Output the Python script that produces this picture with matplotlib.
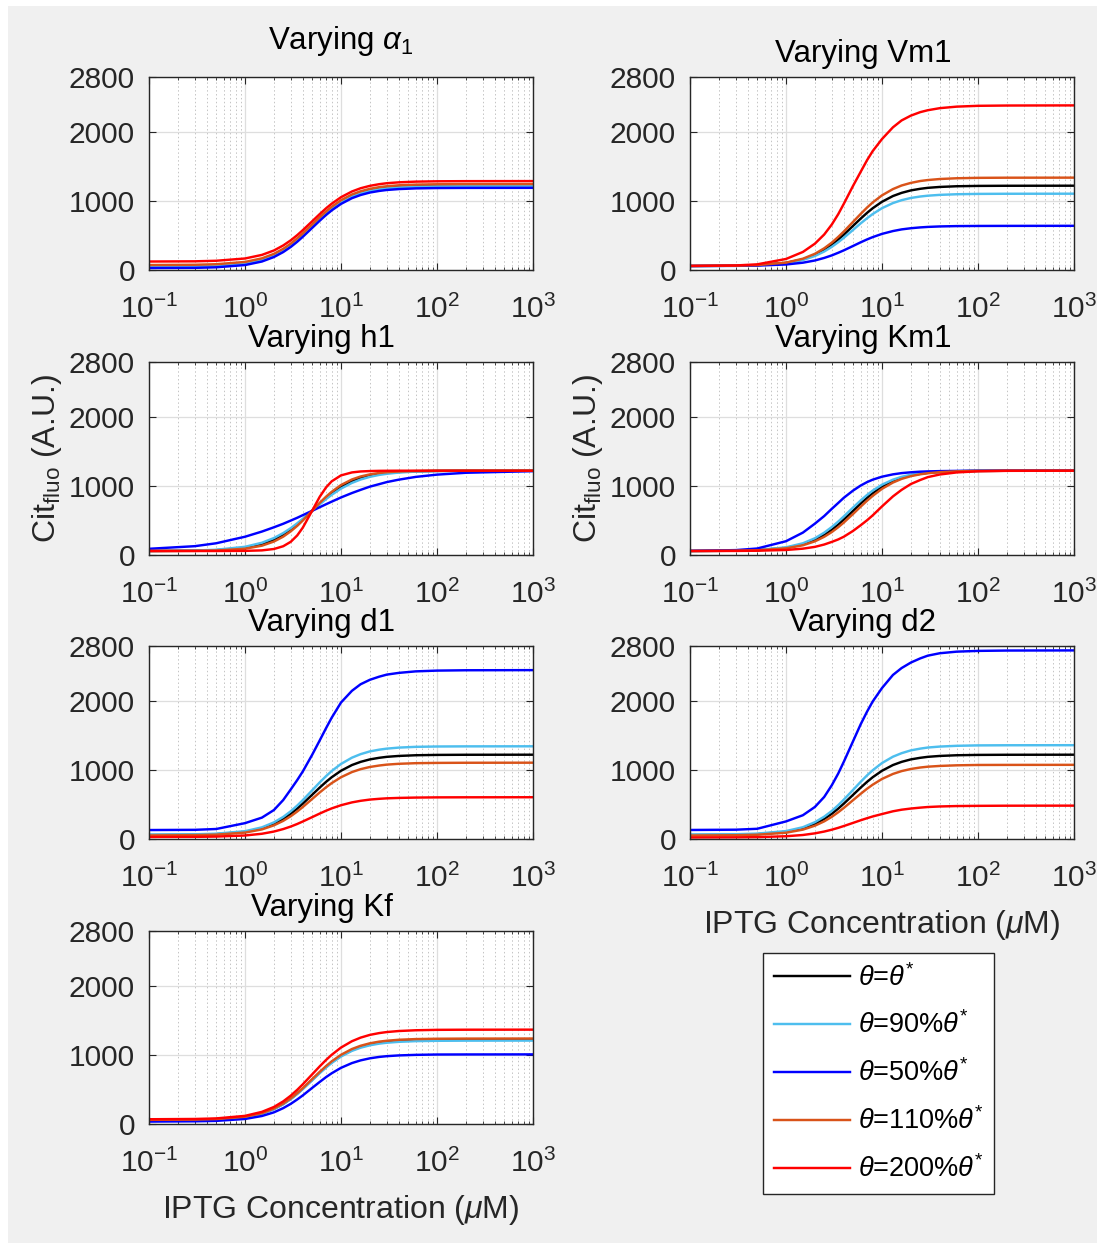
import matplotlib
matplotlib.use('Agg')
import matplotlib.pyplot as plt
from matplotlib.patches import Rectangle
from matplotlib.ticker import FixedLocator, LogLocator, NullFormatter, LogFormatterSciNotation

plt.rcParams['font.family'] = ['Liberation Sans', 'DejaVu Sans']
plt.rcParams['mathtext.fontset'] = 'custom'
plt.rcParams['mathtext.rm'] = 'Liberation Sans'
plt.rcParams['mathtext.it'] = 'Liberation Sans:italic'
plt.rcParams['mathtext.bf'] = 'Liberation Sans:bold'
plt.rcParams['axes.unicode_minus'] = False

# ---------------- data ----------------
iptg = [0.1, 0.3, 0.5, 1, 1.5, 2, 2.5, 3, 3.5, 4, 5, 6, 7, 8, 10, 13, 16, 20, 25, 30, 40, 60, 100, 200, 1000]

ref_cit = [58, 62, 70, 103, 154, 219, 291, 366, 441, 513, 641, 746, 830, 896, 990, 1073, 1119, 1155, 1178, 1192, 1205, 1215, 1220, 1222, 1223]

a1_90 = [53, 56, 64, 97, 148, 213, 285, 360, 435, 507, 635, 740, 824, 890, 984, 1067, 1113, 1149, 1172, 1186, 1199, 1209, 1214, 1216, 1217]
a1_50 = [28, 31, 39, 72, 123, 188, 260, 335, 410, 482, 610, 715, 799, 865, 959, 1042, 1088, 1124, 1147, 1161, 1174, 1184, 1189, 1191, 1192]
a1_110 = [72, 76, 84, 117, 169, 234, 307, 383, 459, 531, 660, 766, 850, 917, 1012, 1096, 1142, 1178, 1202, 1215, 1229, 1239, 1244, 1246, 1247]
a1_200 = [123, 126, 134, 167, 219, 283, 356, 431, 506, 578, 706, 811, 896, 962, 1056, 1139, 1186, 1221, 1245, 1259, 1272, 1282, 1287, 1289, 1290]

vm_90 = [58, 62, 68, 98, 145, 203, 268, 336, 403, 467, 582, 677, 752, 812, 897, 971, 1013, 1045, 1066, 1078, 1090, 1099, 1104, 1106, 1107]
vm_50 = [58, 60, 64, 80, 106, 138, 175, 212, 250, 285, 349, 402, 444, 477, 524, 565, 589, 606, 618, 625, 632, 637, 639, 640, 641]
vm_110 = [59, 63, 71, 107, 164, 235, 315, 397, 480, 558, 699, 814, 907, 980, 1083, 1174, 1226, 1264, 1291, 1305, 1320, 1331, 1337, 1339, 1340]
vm_200 = [59, 66, 82, 160, 262, 382, 515, 660, 810, 960, 1222, 1425, 1595, 1725, 1900, 2070, 2170, 2240, 2290, 2318, 2348, 2370, 2382, 2386, 2388]

h_90 = [59, 65, 76, 119, 178, 246, 318, 390, 460, 525, 641, 735, 812, 873, 963, 1046, 1095, 1134, 1162, 1178, 1196, 1210, 1218, 1221, 1223]
h_50 = [90, 128, 170, 265, 340, 402, 453, 500, 540, 578, 641, 693, 737, 774, 835, 899, 945, 992, 1028, 1058, 1093, 1133, 1166, 1193, 1216]
h_110 = [58, 60, 65, 91, 135, 195, 266, 344, 423, 500, 641, 756, 847, 917, 1015, 1096, 1139, 1170, 1190, 1201, 1211, 1218, 1221, 1223, 1223]
h_200 = [58, 58, 58, 60, 67, 87, 127, 192, 284, 397, 641, 844, 982, 1069, 1155, 1198, 1212, 1218, 1221, 1222, 1223, 1223, 1223, 1223, 1223]

km_90 = [58, 63, 72, 111, 170, 243, 324, 406, 485, 560, 689, 792, 872, 934, 1020, 1093, 1134, 1165, 1185, 1196, 1208, 1216, 1221, 1222, 1223]
km_50 = [60, 71, 94, 200, 325, 455, 565, 670, 755, 830, 935, 1008, 1058, 1093, 1136, 1170, 1188, 1200, 1209, 1213, 1217, 1220, 1222, 1223, 1223]
km_110 = [58, 62, 68, 97, 141, 198, 264, 333, 403, 471, 596, 702, 788, 858, 960, 1051, 1104, 1144, 1171, 1186, 1202, 1214, 1220, 1222, 1223]
km_200 = [58, 59, 62, 73, 92, 118, 152, 190, 226, 265, 350, 432, 505, 575, 705, 850, 945, 1030, 1088, 1130, 1168, 1198, 1214, 1221, 1223]

d1_90 = [64, 68, 77, 113, 169, 241, 320, 403, 485, 564, 705, 821, 913, 986, 1089, 1180, 1231, 1271, 1296, 1311, 1326, 1337, 1342, 1344, 1345]
d1_50 = [130, 133, 145, 230, 310, 420, 565, 720, 855, 980, 1220, 1430, 1610, 1760, 1980, 2150, 2245, 2310, 2355, 2385, 2410, 2432, 2443, 2448, 2450]
d1_110 = [52, 56, 63, 93, 139, 198, 263, 331, 399, 464, 580, 675, 751, 811, 896, 971, 1013, 1045, 1066, 1079, 1091, 1100, 1104, 1106, 1107]
d1_200 = [29, 31, 35, 51, 76, 108, 144, 181, 218, 254, 317, 369, 411, 444, 490, 531, 554, 572, 583, 590, 596, 601, 604, 605, 606]

d2_90 = [65, 69, 78, 115, 171, 244, 324, 407, 491, 571, 713, 830, 924, 997, 1102, 1194, 1245, 1286, 1311, 1327, 1341, 1352, 1358, 1360, 1361]
d2_50 = [131, 135, 148, 255, 345, 465, 610, 780, 950, 1120, 1420, 1665, 1850, 1995, 2190, 2380, 2480, 2560, 2620, 2660, 2695, 2718, 2729, 2734, 2736]
d2_110 = [51, 55, 62, 91, 136, 193, 256, 322, 388, 451, 564, 656, 730, 788, 871, 944, 985, 1016, 1037, 1049, 1060, 1069, 1074, 1075, 1076]
d2_200 = [22, 24, 27, 40, 58, 82, 108, 135, 162, 188, 234, 272, 302, 327, 362, 402, 425, 442, 455, 464, 472, 478, 481, 483, 484]

kf_90 = [55, 59, 66, 99, 150, 214, 286, 361, 435, 506, 633, 737, 820, 886, 979, 1061, 1107, 1142, 1166, 1179, 1192, 1202, 1207, 1209, 1210]
kf_50 = [35, 39, 45, 73, 116, 169, 230, 293, 356, 415, 523, 610, 681, 736, 815, 884, 923, 953, 973, 984, 995, 1003, 1008, 1009, 1010]
kf_110 = [60, 64, 72, 105, 157, 223, 296, 372, 448, 520, 650, 756, 841, 909, 1004, 1088, 1135, 1171, 1195, 1208, 1222, 1232, 1237, 1239, 1240]
kf_200 = [69, 73, 81, 118, 176, 247, 328, 412, 496, 576, 719, 836, 930, 1004, 1109, 1201, 1253, 1293, 1319, 1334, 1349, 1360, 1366, 1368, 1369]

panel_titles = [r'Varying $\alpha_1$', 'Varying Vm1', 'Varying h1', 'Varying Km1',
                'Varying d1', 'Varying d2', 'Varying Kf']
series_labels = [r'$\theta$=$\theta^{*}$', r'$\theta$=90%$\theta^{*}$', r'$\theta$=50%$\theta^{*}$',
                 r'$\theta$=110%$\theta^{*}$', r'$\theta$=200%$\theta^{*}$']
series_colors = ['#000000', '#4DBEEE', '#0000FF', '#D95319', '#FF0000']
y_ticks = [0, 1000, 2000, 2800]
x_major = [0.1, 1, 10, 100, 1000]

panel_data = [
    [ref_cit, a1_90, a1_50, a1_110, a1_200],
    [ref_cit, vm_90, vm_50, vm_110, vm_200],
    [ref_cit, h_90, h_50, h_110, h_200],
    [ref_cit, km_90, km_50, km_110, km_200],
    [ref_cit, d1_90, d1_50, d1_110, d1_200],
    [ref_cit, d2_90, d2_50, d2_110, d2_200],
    [ref_cit, kf_90, kf_50, kf_110, kf_200],
]

# ---------------- layout ----------------
W, H = 1105, 1250
fig = plt.figure(figsize=(W / 100, H / 100), dpi=100, facecolor='white')
fig.patches.append(Rectangle((8 / W, 1 - 1243 / H), (1097 - 8) / W, (1243 - 6) / H,
                             transform=fig.transFigure, facecolor='#f0f0f0',
                             edgecolor='none', zorder=-10))

col_left = [149, 690]
row_top = [77, 362, 646, 931]
ax_w, ax_h = 384, 193
positions = [(0, 0), (0, 1), (1, 0), (1, 1), (2, 0), (2, 1), (3, 0)]

DARK = '#262626'
axes = []
for i, (r, c) in enumerate(positions):
    left = col_left[c] / W
    bottom = 1 - (row_top[r] + ax_h) / H
    ax = fig.add_axes([left, bottom, ax_w / W, ax_h / H])
    ax.set_facecolor('white')
    for s, col in zip(panel_data[i], series_colors):
        ax.plot(iptg, s, color=col, lw=1.75)
    ax.set_xscale('log')
    ax.set_xlim(0.1, 1000)
    ax.set_ylim(0, 2800)
    ax.set_yticks(y_ticks)
    ax.set_yticklabels([str(v) for v in y_ticks])
    ax.xaxis.set_major_locator(FixedLocator(x_major))
    ax.xaxis.set_major_formatter(LogFormatterSciNotation())
    ax.xaxis.set_minor_locator(LogLocator(base=10, subs=[2, 3, 4, 5, 6, 7, 8, 9], numticks=20))
    ax.xaxis.set_minor_formatter(NullFormatter())
    ax.set_axisbelow(True)
    ax.grid(True, which='major', color='#dedede', lw=0.9)
    ax.grid(True, which='minor', axis='x', color='#c4c4c4', lw=0.7, ls=(0, (1.5, 2.5)))
    ax.tick_params(which='both', direction='in', top=True, right=True,
                   colors=DARK, labelsize=21.5)
    ax.tick_params(which='major', length=5, width=0.8)
    ax.tick_params(which='minor', length=2.5, width=0.6)
    ax.tick_params(axis='x', pad=18)
    ax.tick_params(axis='y', pad=10)
    for sp in ax.spines.values():
        sp.set_color(DARK)
        sp.set_linewidth(1.0)
    if i == 0:
        ax.set_title(panel_titles[i], fontsize=22.5, color='black', pad=20, x=0.5)
    else:
        ax.set_title(panel_titles[i], fontsize=22.5, color='black', pad=11, x=0.45)
    axes.append(ax)

for i in (2, 3):
    axes[i].set_ylabel(r'Cit$_{\rm fluo}$ (A.U.)', fontsize=23, color=DARK)
    axes[i].yaxis.set_label_coords(-0.222, 0.5)
for i in (5, 6):
    axes[i].set_xlabel(r'IPTG Concentration ($\mu$M)', fontsize=23, color=DARK, labelpad=11)

handles = axes[0].get_lines()
leg = fig.legend(handles, series_labels, loc='upper left',
                 bbox_to_anchor=(763 / W, 1 - 953 / H), borderaxespad=0,
                 fontsize=19.5, frameon=True, fancybox=False, framealpha=1,
                 edgecolor=DARK, handlelength=2.8, handletextpad=0.3,
                 labelspacing=0.74, borderpad=0.4)
leg.get_frame().set_linewidth(1.0)

fig.savefig('out.png', dpi=100, facecolor='white')
